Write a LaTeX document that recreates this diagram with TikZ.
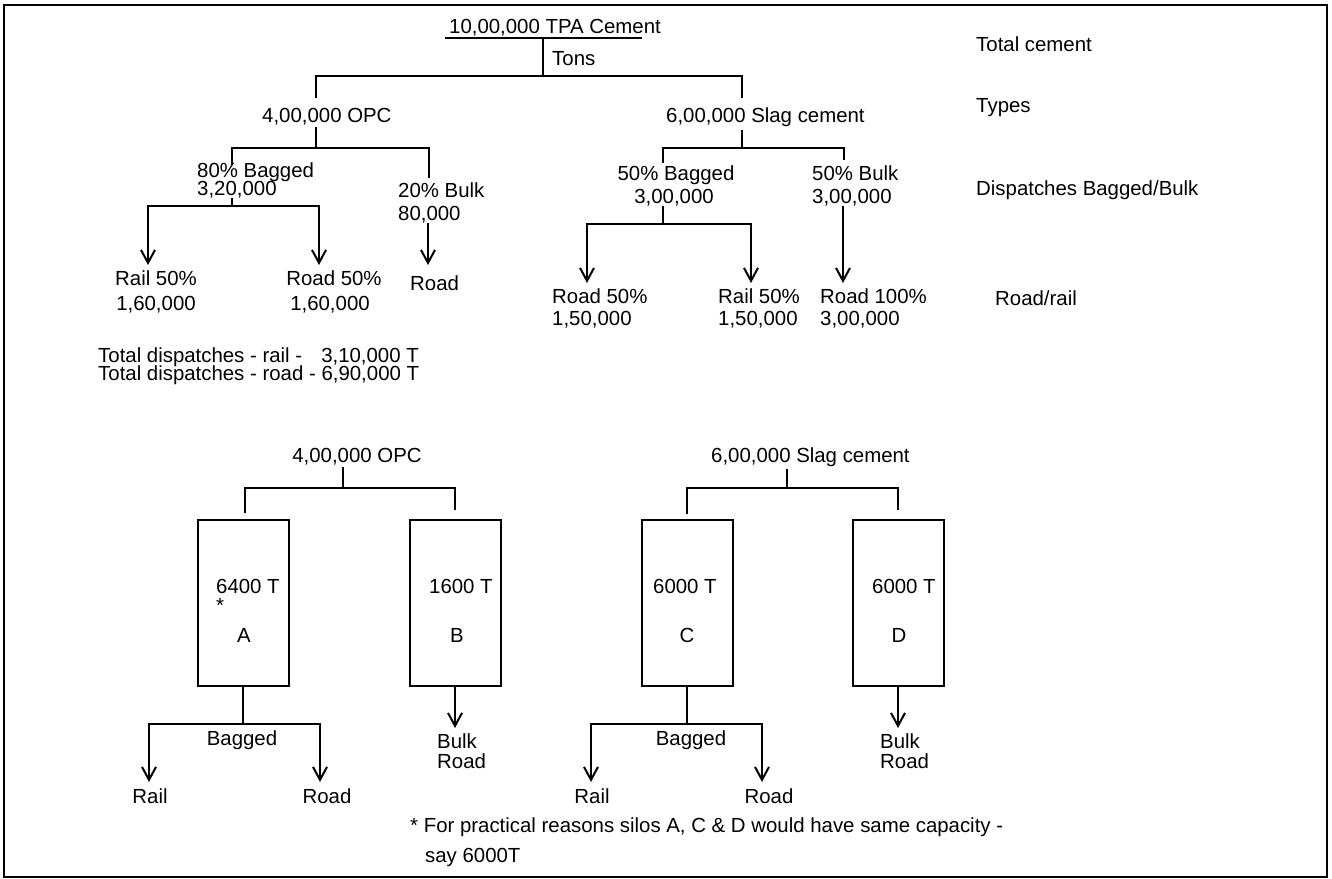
\documentclass[tikz,border=0pt]{standalone}
\usepackage{fontspec}
\setmainfont{Liberation Sans}
\usetikzlibrary{arrows.meta}
\begin{document}
\begin{tikzpicture}[x=1pt,y=-1pt,
  lbl/.style={anchor=base, inner sep=0pt, font=\fontsize{20.4}{22}\selectfont},
  lblw/.style={lbl, anchor=base west},
  wire/.style={line width=2pt},
  arr/.style={wire, -{Straight Barb[length=13pt,width=14pt]}},
  silo/.style={draw, line width=2pt, minimum width=91pt, minimum height=166pt, inner sep=0pt}]
\useasboundingbox (0,0) rectangle (1332,878);
% outer frame
\draw[line width=1.8pt] (4,5) rectangle (1327,877);

% ---------- dispatch tree ----------
\node[lbl] (total) at (555,33) {10,00,000 TPA Cement};
\coordinate (ulL) at (445,38);
\coordinate (ulR) at (642,38);
\draw[wire] (ulL) -- (ulR);
\node[lblw] (tons) at (552,65) {Tons};
\coordinate (rootJ) at (543,38);
\coordinate (rootS) at (543,76);
\coordinate (opcIn) at (316,98);
\coordinate (slagIn) at (742,98);
\draw[wire] (rootJ) -- (rootS);
\draw[wire] (opcIn) |- (rootS) -| (slagIn);

% OPC branch
\node[lblw] (opc) at (262,122) {4,00,000 OPC};
\coordinate (opcOut) at (316,127);
\coordinate (opcJ) at (316,148);
\coordinate (bagIn) at (232,165);
\coordinate (bulkIn) at (429,178);
\draw[wire] (opcOut) -- (opcJ);
\draw[wire] (bagIn) |- (opcJ) -| (bulkIn);
\node[lblw] (bag1) at (197,177) {80\% Bagged};
\node[lblw] (bag1n) at (197,195) {3,20,000};
\coordinate (bag1J) at (232,206);
\coordinate (rail1In) at (148,265);
\coordinate (road1In) at (319,265);
\draw[wire] (bag1n.south -| bag1J) -- (bag1J);
\draw[arr] (bag1J) -| (rail1In);
\draw[arr] (bag1J) -| (road1In);
\node[lblw] (bulk1) at (398,197) {20\% Bulk};
\node[lblw] (bulk1n) at (398,220) {80,000};
\coordinate (road2In) at (428,265);
\draw[arr] (bulk1n.south -| road2In) -- (road2In);
\node[lbl] (rail1) at (156,285) {Rail 50\%};
\node[lbl] (rail1n) at (156,310) {1,60,000};
\node[lbl] (road1) at (334,285) {Road 50\%};
\node[lbl] (road1n) at (330,310) {1,60,000};
\node[lblw] (road2) at (410,290) {Road};

% slag branch
\node[lblw] (slag) at (666,122) {6,00,000 Slag cement};
\coordinate (slagOut) at (742,130);
\coordinate (slagJ) at (742,148);
\coordinate (bag2In) at (663,163);
\coordinate (bulk2In) at (844,160);
\draw[wire] (slagOut) -- (slagJ);
\draw[wire] (bag2In) |- (slagJ) -| (bulk2In);
\node[lbl] (bag2) at (676,180) {50\% Bagged};
\node[lbl] (bag2n) at (674,203) {3,00,000};
\coordinate (bag2J) at (663,224);
\coordinate (road3In) at (587,283);
\coordinate (rail3In) at (751,283);
\draw[wire] (bag2n.south -| bag2J) -- (bag2J);
\draw[arr] (bag2J) -| (road3In);
\draw[arr] (bag2J) -| (rail3In);
\node[lblw] (bulk2) at (812,180) {50\% Bulk};
\node[lblw] (bulk2n) at (812,203) {3,00,000};
\coordinate (road4In) at (843,283);
\draw[arr] (bulk2n.south -| road4In) -- (road4In);
\node[lblw] (road3) at (552,303) {Road 50\%};
\node[lblw] (road3n) at (552,325) {1,50,000};
\node[lblw] (rail3) at (718,303) {Rail 50\%};
\node[lblw] (rail3n) at (718,325) {1,50,000};
\node[lblw] (road4) at (820,303) {Road 100\%};
\node[lblw] (road4n) at (820,325) {3,00,000};

% level captions
\node[lblw] (capTotal) at (976,51) {Total cement};
\node[lblw] (capTypes) at (976,112) {Types};
\node[lblw] (capDisp) at (976,195) {Dispatches Bagged/Bulk};
\node[lblw] (capRoad) at (995,305) {Road/rail};

% totals
\node[lblw] (sumRail) at (98,362) {Total dispatches - rail -};
\node[lbl, anchor=base east] (sumRailN) at (419,362) {3,10,000 T};
\node[lblw] (sumRoad) at (98,380) {Total dispatches - road - 6,90,000 T};

% ---------- silos ----------
% OPC silos
\node[lbl] (opc2) at (357,462) {4,00,000 OPC};
\coordinate (opc2Out) at (343,467);
\coordinate (opc2J) at (343,488);
\coordinate (aIn) at (245,513);
\coordinate (bIn) at (455,510);
\draw[wire] (opc2Out) -- (opc2J);
\draw[wire] (aIn) |- (opc2J) -| (bIn);
\node[silo] (siloA) at (243,603) {};
\node[lblw] (capA) at (216,593) {6400 T};
\node[lbl] (starA) at (220,612) {*};
\node[lbl] (nameA) at (244,642) {A};
\node[silo] (siloB) at (455,603) {};
\node[lblw] (capB) at (429,593) {1600 T};
\node[lbl] (nameB) at (457,642) {B};
\coordinate (aJ) at (243,724);
\coordinate (aRail) at (149,782);
\coordinate (aRoad) at (320,782);
\draw[wire] (siloA.south) -- (aJ);
\draw[arr] (aJ) -| (aRail);
\draw[arr] (aJ) -| (aRoad);
\node[lbl] (aBag) at (242,745) {Bagged};
\node[lbl] (aRailT) at (150,803) {Rail};
\node[lbl] (aRoadT) at (327,803) {Road};
\coordinate (bOut) at (455,728);
\draw[arr] (siloB.south) -- (bOut);
\node[lblw] (bBulk) at (437,748) {Bulk};
\node[lblw] (bRoad) at (437,768) {Road};

% slag silos
\node[lblw] (slag2) at (711,462) {6,00,000 Slag cement};
\coordinate (slag2Out) at (787,469);
\coordinate (slag2J) at (787,488);
\coordinate (cIn) at (687,514);
\coordinate (dIn) at (898,510);
\draw[wire] (slag2Out) -- (slag2J);
\draw[wire] (cIn) |- (slag2J) -| (dIn);
\node[silo] (siloC) at (687,603) {};
\node[lblw] (capC) at (653,593) {6000 T};
\node[lbl] (nameC) at (687,642) {C};
\node[silo] (siloD) at (898,603) {};
\node[lblw] (capD) at (872,593) {6000 T};
\node[lbl] (nameD) at (899,642) {D};
\coordinate (cJ) at (687,724);
\coordinate (cRail) at (591,782);
\coordinate (cRoad) at (762,782);
\draw[wire] (siloC.south) -- (cJ);
\draw[arr] (cJ) -| (cRail);
\draw[arr] (cJ) -| (cRoad);
\node[lbl] (cBag) at (691,745) {Bagged};
\node[lbl] (cRailT) at (592,803) {Rail};
\node[lbl] (cRoadT) at (769,803) {Road};
\coordinate (dOut) at (898,728);
\draw[arr] (siloD.south) -- (dOut);
\node[lblw] (dBulk) at (880,748) {Bulk};
\node[lblw] (dRoad) at (880,768) {Road};

% footnote
\node[lblw] (note1) at (410,832) {* For practical reasons silos A, C \& D would have same capacity -};
\node[lblw] (note2) at (425,862) {say 6000T};
\end{tikzpicture}
\end{document}
